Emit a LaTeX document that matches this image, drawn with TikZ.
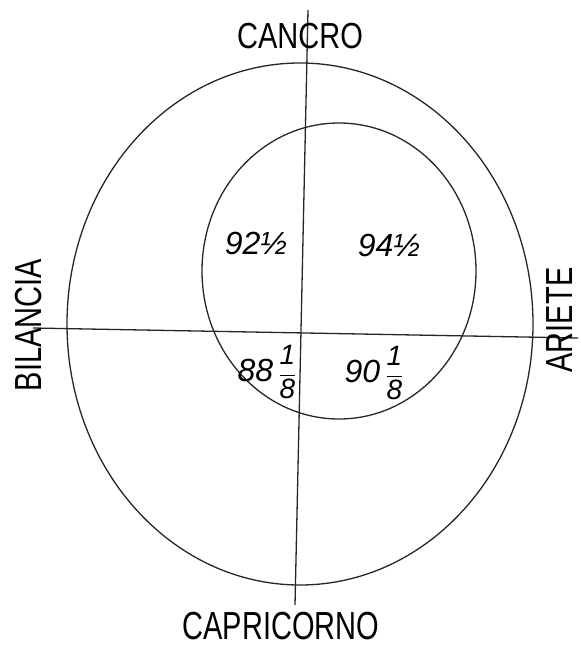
\documentclass[tikz,border=0pt]{standalone}
\usepackage{fontspec}
\setmainfont{Liberation Sans}
\newcommand{\myfrac}[2]{$\displaystyle\frac{\mbox{\fontsize{28}{28}\selectfont #1}}{\mbox{\fontsize{28}{28}\selectfont #2}}$}
\begin{document}
\begin{tikzpicture}[x=1pt,y=-1pt,
  lbl/.style={inner sep=0pt, font=\fontsize{29}{29}\selectfont},
  num/.style={inner sep=0pt, font=\fontsize{32}{32}\selectfont\itshape},
  ln/.style={line width=1.3pt, draw=black!85}]
\useasboundingbox (0,0) rectangle (581,648);
% circles
\coordinate (oc) at (300,324);
\coordinate (ic) at (339,271);
\draw[ln] (oc) ellipse [x radius=233, y radius=261];
\draw[ln] (ic) ellipse [x radius=137, y radius=148];
% axes
\coordinate (vt) at (308,10);
\coordinate (vb) at (295,605);
\coordinate (hl) at (33,328);
\coordinate (hr) at (578,338);
\draw[ln] (vt) -- (vb);
\draw[ln] (hl) -- (hr);
% labels
\node[lbl] (cancro) at (300,36) {\scalebox{1}[1.25]{CANCRO}};
\node[lbl] (capri) at (281,626) {\scalebox{1}[1.35]{CAPRICORNO}};
\node[lbl, rotate=90] (bil) at (29,325) {\scalebox{1}[1.3]{BILANCIA}};
\node[lbl, rotate=90] (ari) at (560,320) {\scalebox{1}[1.3]{ARIETE}};
% numbers
\node[num] (n1) at (256,243) {92½};
\node[num] (n2) at (389,245) {94½};
\node[num] (n3) at (267,372) {88\,\myfrac{1}{8}};
\node[num] (n4) at (374,373) {90\,\myfrac{1}{8}};
\end{tikzpicture}
\end{document}
